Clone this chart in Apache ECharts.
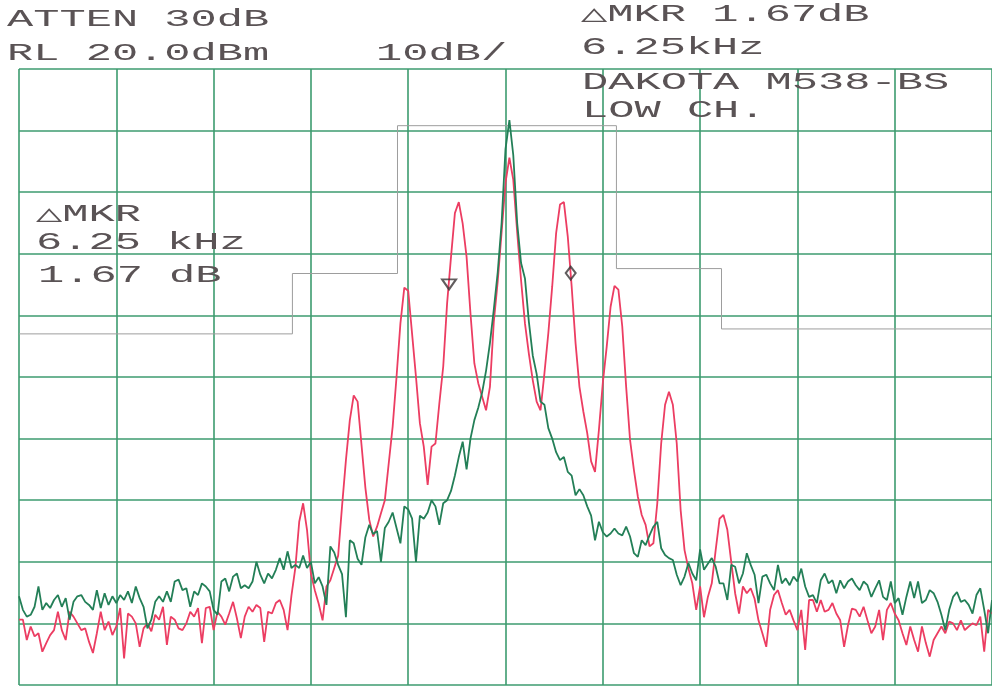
<!DOCTYPE html>
<html>
<head>
<meta charset="utf-8">
<script src="https://cdn.jsdelivr.net/npm/echarts@6/dist/echarts.min.js"></script>
<style>
html,body{margin:0;padding:0;background:#ffffff;}
#chart{width:992px;height:686px;}
</style>
</head>
<body>
<div id="chart"></div>
<script>
// Frequency offset from carrier, kHz (5 kHz/div, 50 kHz span)
const freqKHz = [
-25,-24.8,-24.6,-24.4,-24.2,-24,-23.8,-23.6,-23.4,-23.2,
-23,-22.8,-22.6,-22.4,-22.2,-22,-21.8,-21.6,-21.4,-21.2,
-21,-20.8,-20.6,-20.4,-20.2,-20,-19.8,-19.6,-19.4,-19.2,
-19,-18.8,-18.6,-18.4,-18.2,-18,-17.8,-17.6,-17.4,-17.2,
-17,-16.8,-16.6,-16.4,-16.2,-16,-15.8,-15.6,-15.4,-15.2,
-15,-14.8,-14.6,-14.4,-14.2,-14,-13.8,-13.6,-13.4,-13.2,
-13,-12.8,-12.6,-12.4,-12.2,-12,-11.8,-11.6,-11.4,-11.2,
-11,-10.8,-10.6,-10.4,-10.2,-10,-9.8,-9.6,-9.4,-9.2,
-9,-8.8,-8.6,-8.4,-8.2,-8,-7.8,-7.6,-7.4,-7.2,
-7,-6.8,-6.6,-6.4,-6.2,-6,-5.8,-5.6,-5.4,-5.2,
-5,-4.8,-4.6,-4.4,-4.2,-4,-3.8,-3.6,-3.4,-3.2,
-3,-2.8,-2.6,-2.4,-2.2,-2,-1.8,-1.6,-1.4,-1.2,
-1,-0.8,-0.6,-0.4,-0.2,0,0.2,0.4,0.6,0.8,
1,1.2,1.4,1.6,1.8,2,2.2,2.4,2.6,2.8,
3,3.2,3.4,3.6,3.8,4,4.2,4.4,4.6,4.8,
5,5.2,5.4,5.6,5.8,6,6.2,6.4,6.6,6.8,
7,7.2,7.4,7.6,7.8,8,8.2,8.4,8.6,8.8,
9,9.2,9.4,9.6,9.8,10,10.2,10.4,10.6,10.8,
11,11.2,11.4,11.6,11.8,12,12.2,12.4,12.6,12.8,
13,13.2,13.4,13.6,13.8,14,14.2,14.4,14.6,14.8,
15,15.2,15.4,15.6,15.8,16,16.2,16.4,16.6,16.8,
17,17.2,17.4,17.6,17.8,18,18.2,18.4,18.6,18.8,
19,19.2,19.4,19.6,19.8,20,20.2,20.4,20.6,20.8,
21,21.2,21.4,21.6,21.8,22,22.2,22.4,22.6,22.8,
23,23.2,23.4,23.6,23.8,24,24.2,24.4,24.6,24.8,
25
];

// Red trace (modulated), dBm
const modulatedDbm = [
-69.4,-69.4,-72.7,-70.5,-72.1,-71.6,-74.6,-73.2,-71.9,-71.1,
-68.1,-71.1,-72.7,-68.1,-68.9,-70,-71.1,-70.8,-73,-74.8,
-71.6,-68.1,-71.1,-69.7,-71.9,-70.5,-67.5,-75.7,-68.4,-68.9,
-70,-73.8,-70.8,-70,-71.3,-68.6,-69.4,-67.3,-73.5,-68.9,
-69.4,-70.8,-71.1,-70,-68.1,-68.9,-67.5,-73.2,-67.5,-67.3,
-71.1,-68.1,-68.9,-70.2,-68.4,-66.5,-69.2,-72.4,-68.9,-67.3,
-68.1,-67,-67.5,-73,-68.1,-68.4,-66.7,-66.2,-67.8,-71.1,
-65.5,-61,-53.5,-50.5,-54.8,-61.9,-64.6,-66.8,-69.5,-64,
-63,-61,-59,-51,-43.5,-37,-33,-34,-41,-48,
-53.2,-55.9,-54.3,-52.1,-50,-44,-38.1,-30,-21.3,-15.5,
-16,-23,-30,-37.5,-41.3,-47.5,-41.3,-40.8,-34.3,-28.3,
-18,-10.5,-3.4,-1.6,-5.1,-10.5,-19.7,-27.8,-31,-33.2,
-35.4,-31.6,-21,-14.5,-6.5,1.5,5.6,2,-6.5,-14.3,
-21.3,-26.2,-30.5,-34,-35.4,-29.4,-22.9,-15.3,-6.7,-2,
-1.6,-7.2,-15.3,-24.5,-31.6,-35.6,-39.1,-43.7,-45.4,-38.6,
-31,-25.1,-18.6,-15.2,-15.8,-21.8,-31.6,-40.2,-45.1,-49.4,
-52.4,-54,-57.5,-57,-50.5,-40.8,-34.5,-32.4,-34.5,-40.8,
-51.6,-58.1,-61.1,-63.5,-67.8,-64,-69,-65.7,-63.5,-58.1,
-53,-52.4,-54.8,-60,-65.1,-68.4,-64,-65.1,-64.3,-66,
-69.5,-71.6,-73.8,-67.8,-65.4,-64.6,-66.7,-68.6,-67.8,-69.5,
-71.1,-67.8,-74.3,-66.2,-66.2,-68.1,-66.2,-68.1,-67.8,-66.7,
-68.4,-69.5,-73.8,-70.3,-67.6,-67.8,-68.9,-67.3,-69.5,-71.6,
-70.5,-67.8,-72.7,-67.8,-66.7,-68.4,-69.5,-71.6,-73.5,-70.5,
-72.7,-74.6,-70.5,-73.2,-75.4,-72.7,-71.6,-70.5,-71.6,-69.7,
-70,-71.1,-69.5,-71.1,-70.5,-70,-70.3,-68.9,-74.6,-67.8,
-68.4
];

// Green trace (carrier), dBm
const carrierDbm = [
-65.6,-67.8,-68.9,-68.6,-67.3,-64,-67.8,-66.7,-67.5,-66.2,
-65.4,-67.3,-65.9,-69.4,-66.5,-65.6,-65.4,-66.5,-67,-67.8,
-64.6,-67.5,-65.1,-67,-65.6,-66.7,-65.4,-66.2,-64.8,-66.7,
-64,-65.9,-67.3,-70.8,-69.4,-66.5,-65.6,-66.5,-64.8,-66.5,
-63.2,-62.9,-64.6,-64.3,-67.3,-64.8,-65.4,-63.5,-64,-64.8,
-67.8,-68.6,-63.2,-62.7,-64.8,-62.4,-61.9,-64.3,-63.8,-64.3,
-63.2,-60,-62.1,-63.5,-61.9,-62.7,-61.3,-59.4,-61.3,-58.3,
-61,-60.5,-61,-59,-61,-60,-63.5,-62.5,-64,-67,
-57.5,-58.5,-60.5,-62,-69,-56.5,-57,-59.5,-60.5,-56,
-54,-55.5,-55,-60,-54.5,-53.5,-52,-54.5,-57,-51,
-51.5,-53,-60,-52.5,-53,-52,-50,-51,-54,-50.5,
-50,-48.5,-46,-43,-40.5,-45,-40,-37,-35,-32.5,
-29,-24.5,-19,-13,-5,7,11.7,6,-5,-11.5,
-14,-21,-26.5,-29.5,-34,-34.5,-38.3,-40,-42.2,-43.5,
-43,-45.4,-46,-49.2,-48.2,-49.2,-51,-52.5,-56.5,-53.5,
-55.2,-55.9,-55.4,-54.6,-55.4,-55.7,-54.3,-55.9,-58.6,-59.2,
-56.5,-57.3,-55.7,-54.3,-53.5,-57.8,-58.9,-59.4,-59.7,-62.1,
-63.8,-62.4,-60.2,-61.9,-63,-58,-61.3,-60.3,-59.4,-60.8,
-63.5,-63.5,-66.2,-60.5,-60.8,-63.5,-61.9,-58.6,-60.5,-62.1,
-66.7,-62.4,-62.1,-63.5,-64.6,-60.5,-63.5,-62.7,-63.8,-62.4,
-63.2,-61.1,-64,-65.7,-65.4,-66.7,-63,-61.9,-63.5,-63,
-65.1,-63,-64.3,-63.2,-62.7,-63.8,-64.6,-63.2,-63.8,-65.7,
-64.3,-63,-65.7,-66.2,-63.2,-66.7,-65.9,-68.6,-65.7,-63.2,
-65.9,-63.2,-66.7,-66.2,-64.6,-65.1,-66.5,-68.6,-71.1,-67.8,
-65.7,-64.9,-66.5,-66.2,-67,-68.4,-65.4,-64.3,-67.8,-71.6,
-66.2
];

// Spectrum mask (gray step line)
const maskFreq  = [-25, -10.95, -10.95, -5.55, -5.55, 5.7, 5.7, 11.1, 11.1, 25];
const maskLevel = [-23, -23, -13.2, -13.2, 10.8, 10.8, -12.4, -12.4, -22.2, -22.2];

// Markers (reference marker and delta marker: 6.25 kHz, 1.67 dB)
const refMarker   = [-2.9, -14.8];
const deltaMarker = [3.35, -13.13];

// Annotation texts
const textLines = {
  atten: 'ATTEN 30dB',
  rl: 'RL 20.0dBm',
  scale: '10dB/',
  mkrTop: '\u25B3MKR 1.67dB',
  mkrTopFreq: '6.25kHz',
  model: 'DAKOTA M538-BS',
  channel: 'LOW CH.',
  boxMkr: '\u25B3MKR',
  boxFreq: '6.25 kHz',
  boxLevel: '1.67 dB'
};

const chart = echarts.init(document.getElementById('chart'), null, {renderer: 'canvas'});
const gridColor = '#3d9b6f';
const inkColor = '#5a5355';
const FONT = '23px "Liberation Mono", "DejaVu Sans Mono", monospace';
const SX = 1.9;

function plotText(str, x, yMid) {
  return {
    type: 'text', x: x, y: yMid, scaleX: SX, silent: true, z: 10,
    style: {text: str, x: 0, y: 0, font: FONT, fill: inkColor, textAlign: 'left', textVerticalAlign: 'middle'}
  };
}

const axisCommon = {
  axisLabel: {show: false},
  axisTick: {show: false},
  axisLine: {show: false},
  splitLine: {show: true, showMinLine: true, showMaxLine: true, lineStyle: {color: gridColor, width: 1.6}}
};

const option = {
  animation: false,
  backgroundColor: '#ffffff',
  grid: {left: 19, top: 69, width: 975, height: 616, containLabel: false},
  xAxis: Object.assign({type: 'value', min: -25, max: 25, interval: 5}, axisCommon),
  yAxis: Object.assign({type: 'value', min: -80, max: 20, interval: 10}, axisCommon),
  series: [
    {
      name: 'Mask', type: 'line', symbol: 'none', z: 2,
      data: maskFreq.map((f, i) => [f, maskLevel[i]]),
      lineStyle: {color: '#9d9d9d', width: 1}
    },
    {
      name: 'Modulated', type: 'line', symbol: 'none', z: 3,
      data: freqKHz.map((f, i) => [f, modulatedDbm[i]]),
      lineStyle: {color: '#ec3d62', width: 1.8}
    },
    {
      name: 'Carrier', type: 'line', symbol: 'none', z: 4,
      data: freqKHz.map((f, i) => [f, carrierDbm[i]]),
      lineStyle: {color: '#237f57', width: 1.8}
    },
    {
      name: 'Ref marker', type: 'scatter', z: 6,
      data: [refMarker],
      symbol: 'triangle', symbolRotate: 180, symbolSize: [14, 10], symbolOffset: [0, 1],
      itemStyle: {color: 'rgba(255,255,255,0)', borderColor: '#3a3436', borderWidth: 2}
    },
    {
      name: 'Delta marker', type: 'scatter', z: 6,
      data: [deltaMarker],
      symbol: 'diamond', symbolSize: [10, 13],
      itemStyle: {color: 'rgba(255,255,255,0)', borderColor: '#3a3436', borderWidth: 2}
    }
  ],
  graphic: [
    plotText(textLines.atten, 7, 20),
    plotText(textLines.rl, 7, 54),
    plotText(textLines.scale, 376, 54),
    plotText(textLines.mkrTop, 581, 15),
    plotText(textLines.mkrTopFreq, 581, 48),
    plotText(textLines.model, 582, 83),
    plotText(textLines.channel, 582, 111),
    plotText(textLines.boxMkr, 36, 215),
    plotText(textLines.boxFreq, 36, 243),
    plotText(textLines.boxLevel, 38, 276)
  ]
};
chart.setOption(option);
</script>
</body>
</html>
